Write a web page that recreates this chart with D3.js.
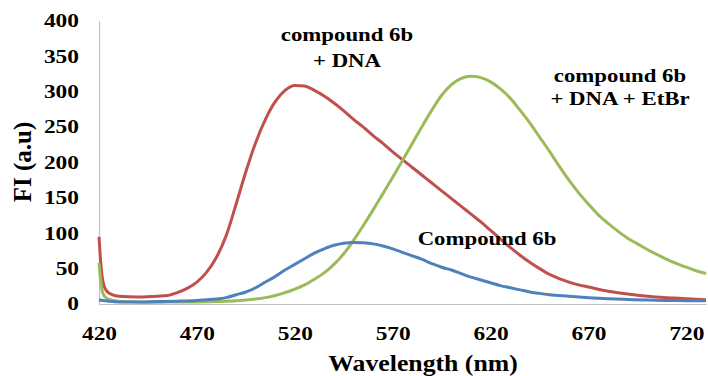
<!DOCTYPE html>
<html>
<head>
<meta charset="utf-8">
<script src="https://cdn.jsdelivr.net/npm/d3@7"></script>
<style>
  body { margin: 0; background: #fff; }
</style>
</head>
<body>
<svg id="chart" width="708" height="376"></svg>
<script>
// wavelength (nm) / fluorescence intensity
let redWl = [420, 421, 422, 424, 427, 430, 440, 450, 455, 460, 465, 470, 475, 480, 485, 490, 495, 500, 505, 510, 515, 520, 525, 530, 535, 540, 545, 550, 555, 560, 565, 570, 575, 580, 585, 590, 595, 600, 605, 610, 615, 620, 625, 630, 635, 640, 645, 650, 655, 660, 665, 670, 680, 690, 700, 710, 720, 730];
let redFI = [95, 55, 32, 18, 13, 11, 10, 11, 12, 16, 22, 31, 45, 66, 97, 141, 187, 228, 261, 286, 302, 309, 308, 302, 294, 284, 273, 261, 250, 238, 227, 215, 204, 193, 182, 171, 160, 149, 138, 127, 116, 104, 92, 80, 69, 59, 50, 42, 36, 31, 27, 24, 18, 14, 11, 9, 7.5, 6];

let greenWl = [420, 421, 422, 424, 427, 430, 440, 450, 460, 470, 480, 490, 495, 500, 505, 510, 515, 520, 525, 530, 535, 540, 545, 550, 555, 560, 565, 570, 575, 580, 585, 590, 595, 600, 605, 610, 615, 620, 625, 630, 635, 640, 645, 650, 655, 660, 665, 670, 675, 680, 685, 690, 695, 700, 705, 710, 715, 720, 725, 730];
let greenFI = [58, 30, 15, 8, 5, 4, 3, 2.5, 3, 3, 3.5, 4.5, 5.6, 7, 9, 12, 16, 21, 27, 35, 44, 56, 71, 90, 111, 133, 156, 179, 203, 227, 251, 274, 295, 310, 319, 322, 320, 314, 304, 291, 274, 256, 236, 216, 195, 175, 157, 141, 126, 114, 103, 93, 85, 77, 70, 63, 57, 52, 47, 43];

let blueWl = [420, 422, 425, 430, 440, 450, 460, 470, 475, 480, 485, 490, 495, 500, 505, 510, 515, 520, 525, 530, 535, 540, 545, 550, 555, 560, 565, 570, 575, 580, 585, 590, 595, 600, 605, 610, 615, 620, 625, 630, 635, 640, 645, 650, 660, 670, 680, 690, 700, 710, 720, 730];
let blueFI = [6, 5, 4, 3, 3, 3.5, 4, 5, 6, 7, 9, 13, 17, 23, 31, 39, 48, 56, 64, 72, 78, 83, 86, 87, 86.5, 85, 82, 78, 73, 68, 63, 57, 52, 48, 43, 38, 34, 30, 26, 23, 20, 17, 15, 13, 11, 9, 7.5, 6.5, 5.5, 5, 4.7, 4.5];

let xTicks = [420, 470, 520, 570, 620, 670, 720];
let yTicks = [0, 50, 100, 150, 200, 250, 300, 350, 400];

let series = [
  { name: 'compound 6b + DNA', wl: redWl, fi: redFI, color: '#c0504d' },
  { name: 'compound 6b + DNA + EtBr', wl: greenWl, fi: greenFI, color: '#9bbb59' },
  { name: 'Compound 6b', wl: blueWl, fi: blueFI, color: '#4f81bd' }
];

const SERIF = '"Liberation Serif", Tinos, "Times New Roman", serif';
// the source picture is stretched sideways, so text gets a horizontal scale
const TICK_STRETCH = 1.3;

let svg = d3.select('#chart');

let x = d3.scaleLinear().domain([420, 730]).range([99, 706]);
let y = d3.scaleLinear().domain([0, 400]).range([304, 21]);

let styleText = (sel, size) => sel
  .style('font-family', SERIF)
  .style('font-weight', 'bold')
  .style('font-size', size + 'px')
  .attr('fill', '#000');

//
// Axes (no tick marks, just a grey line and labels)
//
let xAxis = svg.append('g')
  .attr('transform', `translate(0,${y(0)})`)
  .call(d3.axisBottom(x).tickValues(xTicks).tickSize(0).tickPadding(23));
xAxis.select('.domain').attr('stroke', '#bfbfbf').attr('stroke-width', 1.2);
xAxis.selectAll('text')
  .call(styleText, 18)
  .attr('transform', `scale(${TICK_STRETCH},1)`);

let yAxis = svg.append('g')
  .attr('transform', `translate(${x(420)},0)`)
  .call(d3.axisLeft(y).tickValues(yTicks).tickSize(0));
yAxis.select('.domain').attr('stroke', '#bfbfbf').attr('stroke-width', 1.2);
yAxis.selectAll('text')
  .call(styleText, 18)
  .attr('x', -20 / TICK_STRETCH)
  .attr('transform', `scale(${TICK_STRETCH},1)`);

//
// Curves
//
let line = d3.line()
  .x((d) => x(d[0]))
  .y((d) => y(d[1]))
  .curve(d3.curveMonotoneX);

svg.append('g').selectAll('path')
  .data(series)
  .enter().append('path')
    .attr('d', (s) => line(s.wl.map((w, i) => [w, s.fi[i]])))
    .attr('fill', 'none')
    .attr('stroke', (s) => s.color)
    .attr('stroke-width', 3)
    .attr('stroke-linejoin', 'round');

//
// Titles and curve labels
//
let addText = (tx, ty, str, size, stretch) => svg.append('text')
  .attr('transform', `translate(${tx},${ty}) scale(${stretch},1)`)
  .attr('text-anchor', 'middle')
  .call(styleText, size)
  .text(str);

addText(31, 162, 'FI (a.u)', 25, 1)
  .attr('transform', 'translate(31,162) rotate(-90)');

addText(423, 371, 'Wavelength (nm)', 23, 1.12);

let labels = [
  { lines: ['compound 6b', '+ DNA'], x: 347, y: [41, 67] },
  { lines: ['compound 6b', '+ DNA + EtBr'], x: 620, y: [82, 105] },
  { lines: ['Compound 6b'], x: 487, y: [245] }
];

labels.forEach((l) => {
  l.lines.forEach((t, i) => addText(l.x, l.y[i], t, 19, 1.2));
});
</script>
</body>
</html>
